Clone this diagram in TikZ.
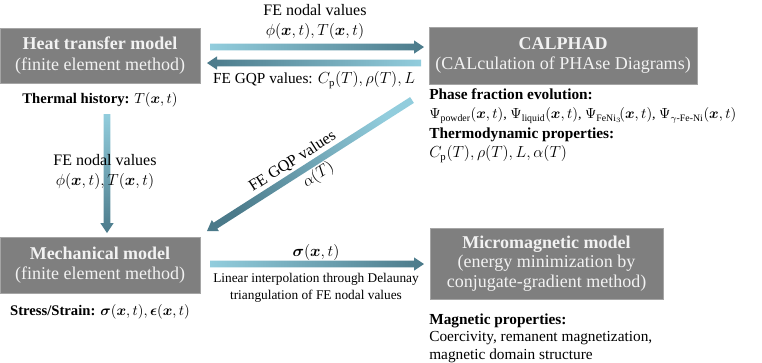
\documentclass[tikz,border=0pt]{standalone}
\usepackage{amsmath,bm}
\usepackage{fontspec}
\setmainfont{Liberation Serif}
\usetikzlibrary{calc}

\definecolor{boxgray}{RGB}{127,127,127}
\definecolor{boxtext}{RGB}{242,242,242}
\definecolor{arrlight}{RGB}{146,205,221}
\definecolor{arrdark}{RGB}{75,122,138}

% shaded arrow from #1 to #2, #3 = shading keys
\newcommand{\gradarrow}[3]{%
  \coordinate (hb) at ($(#2)!7.5pt!(#1)$);
  \shade[#3] ($(#1)!2.6pt!90:(#2)$) -- ($(hb)!2.6pt!90:(#2)$) -- ($(hb)!5pt!90:(#2)$)
    -- (#2) -- ($(hb)!5pt!-90:(#2)$) -- ($(hb)!2.6pt!-90:(#2)$) -- ($(#1)!2.6pt!-90:(#2)$) -- cycle;
}

\tikzset{
  model/.style={fill=boxgray, draw=boxgray!70!white, text=boxtext, align=center, inner sep=0pt,
    font=\fontsize{13.5}{15.5}\selectfont},
  lbl/.style={align=left, inner sep=0pt, font=\fontsize{11.5}{13.5}\selectfont},
  albl/.style={align=center, inner sep=0pt, font=\fontsize{12}{14.5}\selectfont},
}

\begin{document}
\begin{tikzpicture}[x=0.75pt, y=-0.75pt]
\useasboundingbox (0,0) rectangle (762,362);

% models
\node[model, minimum width=150pt, minimum height=41.25pt] (heat) at (100,55.5) {\textbf{Heat transfer model}\\(finite element method)};
\node[model, minimum width=201pt, minimum height=42.75pt] (calphad) at (563,55.5) {\textbf{CALPHAD}\\(CALculation of PHAse Diagrams)};
\node[model, minimum width=150pt, minimum height=42pt] (mech) at (100,265) {\textbf{Mechanical model}\\(finite element method)};
\node[model, minimum width=174.75pt, minimum height=53.25pt, font=\fontsize{13.5}{14.5}\selectfont] (micro) at (546.5,263.5) {\textbf{Micromagnetic model}\\(energy minimization by\\conjugate-gradient method)};

% outputs of each model
\node[lbl, align=center, font=\fontsize{11}{13}\selectfont] (thermal) at (100,100) {\textbf{Thermal history:} $T(\bm{x},t)$};
\node[lbl, align=center, font=\fontsize{11}{13}\selectfont] (stress) at (100,312) {\textbf{Stress/Strain:} $\bm{\sigma}(\bm{x},t),\bm{\epsilon}(\bm{x},t)$};
\node[lbl, anchor=west] (phase) at (429,106) {\textbf{Phase fraction evolution:}\\[1pt]
  {\fontsize{10.5}{13}\selectfont$\Psi_{\text{powder}}(\bm{x},t)$, $\Psi_{\text{liquid}}(\bm{x},t)$, $\Psi_{\text{FeNi}_3}\!(\bm{x},t)$, $\Psi_{\gamma\text{-Fe-Ni}}(\bm{x},t)$}};
\node[lbl, anchor=west] (thermo) at (429,145) {\textbf{Thermodynamic properties:}\\[1pt]$C_{\mathrm{p}}(T),\rho(T),L,\alpha(T)$};
\node[lbl, anchor=west, font=\fontsize{11.5}{13}\selectfont] (magprop) at (429,338) {\textbf{Magnetic properties:}\\Coercivity, remanent magnetization,\\magnetic domain structure};

% arrow ends
\coordinate (hc-s) at (210,47);
\coordinate (hc-e) at (424,47);
\coordinate (ch-s) at (421,63);
\coordinate (ch-e) at (207,63);
\coordinate (hm-s) at (107,114);
\coordinate (hm-e) at (107,233);
\coordinate (cm-s) at (412,100);
\coordinate (cm-e) at (207,231);
\coordinate (mm-s) at (210,264);
\coordinate (mm-e) at (424,264);

\gradarrow{hc-s}{hc-e}{left color=arrlight, right color=arrdark}
\gradarrow{ch-s}{ch-e}{left color=arrdark, right color=arrlight}
\gradarrow{hm-s}{hm-e}{top color=arrlight, bottom color=arrdark}
\gradarrow{cm-s}{cm-e}{top color=arrlight, bottom color=arrdark, shading angle=-57.5}
\gradarrow{mm-s}{mm-e}{left color=arrlight, right color=arrdark}

% arrow labels
\node[albl] (hc-lbl) at (315,22) {FE nodal values\\$\phi(\bm{x},t),T(\bm{x},t)$};
\node[albl, font=\fontsize{11.5}{13}\selectfont] (ch-lbl) at (314,80) {FE GQP values: $C_{\mathrm{p}}(T),\rho(T),L$};
\node[albl] (hm-lbl) at (105,172) {FE nodal values\\$\phi(\bm{x},t),T(\bm{x},t)$};
\path (cm-e) -- (cm-s)
  node[albl, pos=0.45, sloped, above=4pt] (cm-lbl) {FE GQP values}
  node[albl, pos=0.51, sloped, below=3.5pt] (cm-lbl2) {$\alpha(T)$};
\node[albl] (mm-lbl) at (316,252) {$\bm{\sigma}(\bm{x},t)$};
\node[albl, font=\fontsize{10}{12.5}\selectfont] (mm-note) at (316,288) {Linear interpolation through Delaunay\\triangulation of FE nodal values};
\end{tikzpicture}
\end{document}
